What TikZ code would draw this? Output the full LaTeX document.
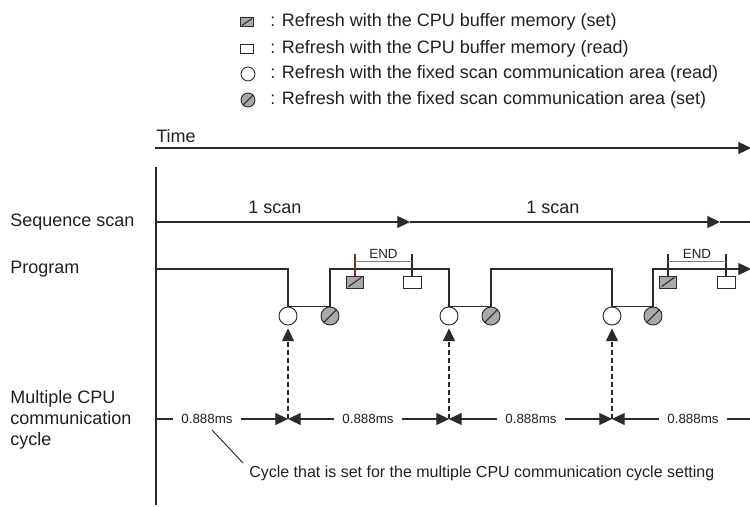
\documentclass[tikz,border=0pt]{standalone}
\usepackage{fontspec}
\setmainfont{Liberation Sans}
\usetikzlibrary{arrows.meta,calc}
\pgfdeclarelayer{bg}
\pgfsetlayers{bg,main}
\definecolor{txt}{HTML}{231F20}
\definecolor{ln}{HTML}{2B2B2B}
\definecolor{hatch}{HTML}{A9A9A9}
\definecolor{endred}{HTML}{7A2A2A}
\definecolor{endgray}{HTML}{808080}
\tikzset{
  lbl/.style={font=\fontsize{13.5}{15.5}\selectfont, text=txt, inner sep=0pt},
  legtxt/.style={font=\fontsize{13.5}{15.5}\selectfont, text=txt, inner sep=0pt, anchor=west},
  mslbl/.style={font=\fontsize{10}{12}\selectfont, text=txt, inner xsep=6pt, inner ysep=1pt},
  endlbl/.style={font=\fontsize{10}{12}\selectfont, text=txt, inner sep=1.5pt},
  notelbl/.style={font=\fontsize{12}{14}\selectfont, text=txt, inner sep=0pt, anchor=west},
  slash/.style={path picture={\draw[ln, line width=0.8pt]
      ($(path picture bounding box.south west)!0.12!(path picture bounding box.north east)$) --
      ($(path picture bounding box.south west)!0.88!(path picture bounding box.north east)$);}},
  readc/.style={circle, draw=ln, line width=0.7pt, fill=white, minimum size=13.5pt, inner sep=0pt},
  setc/.style={circle, draw=ln, line width=0.7pt, fill=hatch, minimum size=13.5pt, inner sep=0pt, slash},
  setb/.style={rectangle, draw=ln, line width=0.7pt, fill=hatch, minimum width=12.75pt, minimum height=9pt, inner sep=0pt, slash},
  readb/.style={rectangle, draw=ln, line width=0.7pt, fill=white, minimum width=13.5pt, minimum height=9pt, inner sep=0pt},
  wire/.style={draw=ln, line width=0.8pt},
  tip/.style={-{Triangle[length=9.5pt,width=9pt]}},
  dashline/.style={wire, dash pattern=on 3.75pt off 2.25pt},
}
\begin{document}
\begin{tikzpicture}[x=0.75pt,y=-0.75pt]
\useasboundingbox (0,0) rectangle (750,507);

% legend
\node[setb, minimum width=9.75pt, minimum height=6.75pt] (lg1) at (247,22) {};
\node[readb, minimum width=10pt, minimum height=6.75pt] (lg2) at (247,49) {};
\node[readc, minimum size=10.5pt] (lg3) at (248,74) {};
\node[setc, minimum size=10.5pt] (lg4) at (248,100) {};
\node[legtxt] (lt1) at (270,22) {: Refresh with the CPU buffer memory (set)};
\node[legtxt] (lt2) at (270,49) {: Refresh with the CPU buffer memory (read)};
\node[legtxt] (lt3) at (270,74) {: Refresh with the fixed scan communication area (read)};
\node[legtxt] (lt4) at (270,100) {: Refresh with the fixed scan communication area (set)};

% time axis
\node[lbl, anchor=west] (time) at (156,136) {Time};
\coordinate (tL) at (155,148);
\coordinate (tR) at (751,148);
\draw[wire, tip] (tL) -- (tR);

% vertical axis
\coordinate (ax0) at (156,167);
\coordinate (ax1) at (156,505);
\draw[wire] (ax0) -- (ax1);

% row labels
\node[lbl, anchor=west] (seqlbl) at (10,222) {Sequence scan};
\node[lbl, anchor=west] (proglbl) at (10,269) {Program};
\node[lbl, anchor=west, align=left, font=\fontsize{13.5}{15.8}\selectfont] (mclbl) at (10,420) {Multiple CPU\\communication\\cycle};

% sequence scan
\coordinate (s0) at (156,222);
\coordinate (sA) at (410,222);
\coordinate (sB) at (720,222);
\coordinate (sE) at (751,222);
\draw[wire, tip] (s0) -- (sA);
\draw[wire, tip] (sA) -- (sB);
\draw[wire] (sB) -- (sE);
\node[lbl] (scan1) at (275,207) {1 scan};
\node[lbl] (scan2) at (553,207) {1 scan};

% program circles and boxes
\node[readc] (r1) at (288,316) {};
\node[setc]  (c1) at (330,316) {};
\node[readc] (r2) at (449,316) {};
\node[setc]  (c2) at (491,316) {};
\node[readc] (r3) at (612,316) {};
\node[setc]  (c3) at (653,316) {};
\coordinate (p0) at (156,269);
\coordinate (pE) at (751,269);
\begin{pgfonlayer}{bg}
\draw[wire, tip] (p0) -| (r1.north) -- (c1.north) -- (c1.north |- p0) -| (r2.north) -- (c2.north)
   -- (c2.north |- p0) -| (r3.north) -- (c3.north) -- (c3.north |- p0) -- (pE);
\end{pgfonlayer}

\node[setb]  (b1) at (355,282) {};
\node[readb] (b2) at (412,282) {};
\node[setb]  (b3) at (668,282) {};
\node[readb] (b4) at (726,282) {};
\coordinate (e1) at ($(b1.north)+(0,-22)$);
\coordinate (e2) at ($(b2.north)+(0,-22)$);
\coordinate (e3) at ($(b3.north)+(0,-22)$);
\coordinate (e4) at ($(b4.north)+(0,-22)$);
\draw[draw=endred, line width=0.9pt] (b1.north) -- (e1);
\draw[wire] (b2.north) -- (e2);
\draw[wire] (b3.north) -- (e3);
\draw[wire] (b4.north) -- (e4);
\draw[draw=endgray, line width=0.9pt] ($(b1.north)+(0,-14)$) -- node[endlbl, above] (end1) {END} ($(b2.north)+(0,-14)$);
\draw[draw=endgray, line width=0.9pt] ($(b3.north)+(0,-14)$) -- node[endlbl, above] (end2) {END} ($(b4.north)+(0,-14)$);

% cycle row
\coordinate (m0) at (156,419);
\coordinate (m1) at (288,419);
\coordinate (m2) at (449,419);
\coordinate (m3) at (612,419);
\coordinate (m4) at (751,419);
\node[mslbl] (ms1) at (207,419) {0.888ms};
\node[mslbl] (ms2) at (368,419) {0.888ms};
\node[mslbl] (ms3) at (531,419) {0.888ms};
\node[mslbl] (ms4) at (693,419) {0.888ms};
\draw[wire] (m0) -- (ms1.west);
\draw[wire, tip] (ms1.east) -- (m1);
\draw[wire, tip] (ms2.west) -- (m1);
\draw[wire, tip] (ms2.east) -- (m2);
\draw[wire, tip] (ms3.west) -- (m2);
\draw[wire, tip] (ms3.east) -- (m3);
\draw[wire, tip] (ms4.west) -- (m3);
\draw[wire] (ms4.east) -- (m4);

\draw[dashline, tip, shorten >=2.2pt] (m1) -- (r1.south);
\draw[dashline, tip, shorten >=2.2pt] (m2) -- (r2.south);
\draw[dashline, tip, shorten >=2.2pt] (m3) -- (r3.south);

% note
\node[notelbl] (note) at (249,473) {Cycle that is set for the multiple CPU communication cycle setting};
\coordinate (na) at (212,430);
\coordinate (nb) at (243,463);
\draw[wire, line width=0.7pt] (na) -- (nb);
\end{tikzpicture}
\end{document}
